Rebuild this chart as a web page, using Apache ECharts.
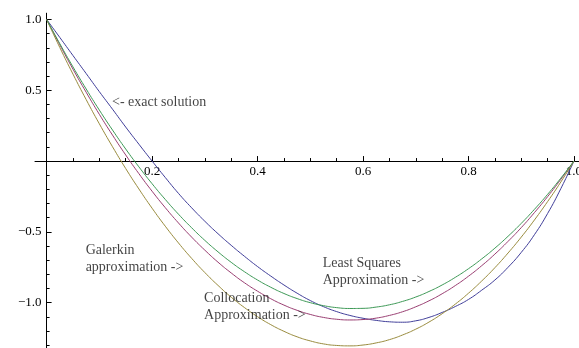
<!DOCTYPE html>
<html>
<head>
<meta charset="utf-8">
<script src="https://cdn.jsdelivr.net/npm/echarts@6/dist/echarts.min.js"></script>
<style>
  html, body { margin: 0; padding: 0; background: #ffffff; }
  #chart { width: 579px; height: 348px; }
</style>
</head>
<body>
<div id="chart"></div>
<script>
// Sample points along x
const xValues = [0, 0.025, 0.05, 0.075, 0.1, 0.125, 0.15, 0.175, 0.2, 0.225, 0.25,
                 0.275, 0.3, 0.325, 0.35, 0.375, 0.4, 0.425, 0.45, 0.475, 0.5,
                 0.525, 0.55, 0.575, 0.6, 0.625, 0.65, 0.675, 0.7, 0.725, 0.75,
                 0.775, 0.8, 0.825, 0.85, 0.875, 0.9, 0.925, 0.95, 0.975, 1];

// Exact solution
const exactSolution = [1.0, 0.873, 0.745, 0.618, 0.49, 0.366, 0.24, 0.119, 0.0, -0.116, -0.228,
                       -0.33, -0.425, -0.513, -0.595, -0.672, -0.745, -0.812, -0.875, -0.933, -0.985,
                       -1.028, -1.063, -1.09, -1.11, -1.125, -1.135, -1.138, -1.128, -1.104, -1.069,
                       -1.027, -0.977, -0.912, -0.84, -0.75, -0.645, -0.52, -0.37, -0.195, 0.0];
// Collocation approximation
const collocation = [1.0, 0.821, 0.649, 0.486, 0.33, 0.183, 0.043, -0.089, -0.213, -0.329, -0.437,
                     -0.537, -0.629, -0.714, -0.79, -0.859, -0.919, -0.972, -1.017, -1.054, -1.083,
                     -1.104, -1.117, -1.122, -1.119, -1.109, -1.09, -1.064, -1.029, -0.987, -0.937,
                     -0.879, -0.813, -0.739, -0.657, -0.567, -0.47, -0.364, -0.251, -0.129, 0.0];
// Galerkin approximation
const galerkin = [1.0, 0.802, 0.614, 0.434, 0.263, 0.101, -0.053, -0.197, -0.333, -0.46, -0.578,
                  -0.687, -0.787, -0.878, -0.961, -1.034, -1.099, -1.155, -1.202, -1.241, -1.27,
                  -1.291, -1.302, -1.305, -1.299, -1.284, -1.261, -1.228, -1.187, -1.137, -1.078,
                  -1.01, -0.933, -0.847, -0.753, -0.649, -0.537, -0.416, -0.286, -0.148, 0.0];
// Least squares approximation
const leastSquares = [1.0, 0.829, 0.665, 0.509, 0.36, 0.219, 0.085, -0.041, -0.16, -0.271, -0.375,
                      -0.471, -0.56, -0.641, -0.715, -0.781, -0.84, -0.891, -0.935, -0.971, -1.0,
                      -1.021, -1.035, -1.041, -1.04, -1.031, -1.015, -0.991, -0.96, -0.921, -0.875,
                      -0.821, -0.76, -0.691, -0.615, -0.531, -0.44, -0.341, -0.235, -0.121, 0.0];

// Tick positions
const xMajorTicks = [0.2, 0.4, 0.6, 0.8, 1.0];
const xMinorTicks = [0.05, 0.1, 0.15, 0.25, 0.3, 0.35, 0.45, 0.5, 0.55, 0.65, 0.7, 0.75, 0.85, 0.9, 0.95];
const yMajorTicks = [-1.0, -0.5, 0.5, 1.0];
const yMinorTicks = [-1.3, -1.2, -1.1, -0.9, -0.8, -0.7, -0.6, -0.4, -0.3, -0.2, -0.1,
                     0.1, 0.2, 0.3, 0.4, 0.6, 0.7, 0.8, 0.9];

// Annotation texts
const noteTexts = ['<- exact solution', 'Galerkin\napproximation ->',
                   'Collocation\nApproximation ->', 'Least Squares\nApproximation ->'];
// Where each annotation starts (data coordinates of its left-middle point)
const noteAnchors = [[0.124, 0.418], [0.074, -0.692], [0.2986, -1.029], [0.5236, -0.783]];

const FONT = '"Liberation Serif", "DejaVu Serif", serif';
const X_MIN = -0.022, X_MAX = 1.0095, Y_MIN = -1.32, Y_MAX = 1.044;
const GRID = { left: 35, right: 0, top: 13.2, bottom: 0 };

const pairs = ys => xValues.map((x, i) => [x, ys[i]]);
const fmt = v => Number(v).toFixed(1).replace('-', '\u2212');
const BLACK_LINE = { color: '#000', width: 1 };

function lineSeries(name, ys, color) {
  return {
    name, type: 'line', data: pairs(ys), smooth: true, showSymbol: false,
    xAxisIndex: 0, yAxisIndex: 0,
    lineStyle: { color, width: 1 }, itemStyle: { color },
    emphasis: { disabled: true }, z: 3
  };
}

// x axis pieces live in grid 0 (which also holds the curves)
function xAxisDef(ticks, tickLen, labels, showLine, offset) {
  return {
    type: 'value', gridIndex: 0, min: X_MIN, max: X_MAX, position: 'bottom', offset,
    axisLine: { show: showLine, onZero: false, lineStyle: BLACK_LINE },
    axisTick: { show: true, inside: true, length: tickLen, customValues: ticks, lineStyle: BLACK_LINE },
    axisLabel: labels
      ? { show: true, customValues: labels, formatter: fmt, margin: 4, interval: 0,
          hideOverlap: false, fontFamily: FONT, fontSize: 13, color: '#000' }
      : { show: false },
    splitLine: { show: false }
  };
}

// y axis pieces live in grid 1, whose left edge sits at x = 0
function yAxisDef(ticks, tickLen, labels, showLine) {
  return {
    type: 'value', gridIndex: 1, min: Y_MIN, max: Y_MAX, position: 'left', offset: 0,
    axisLine: { show: showLine, onZero: false, lineStyle: BLACK_LINE },
    axisTick: { show: true, inside: true, length: tickLen, customValues: ticks, lineStyle: BLACK_LINE },
    axisLabel: labels
      ? { show: true, customValues: labels, formatter: fmt, margin: 5, interval: 0,
          hideOverlap: false, fontFamily: FONT, fontSize: 13, color: '#000' }
      : { show: false },
    splitLine: { show: false }
  };
}

function buildOption(xOff, yAxisLeft) {
  const common = { containLabel: false, outerBoundsMode: 'none' };
  return {
    animation: false,
    backgroundColor: '#ffffff',
    grid: [
      Object.assign({}, common, GRID),
      Object.assign({}, common, GRID, { left: yAxisLeft })
    ],
    xAxis: [
      xAxisDef(xMajorTicks, 5, xMajorTicks, true, xOff),
      xAxisDef(xMinorTicks, 3, null, false, xOff),
      { type: 'value', gridIndex: 1, min: 0, max: 1, show: false }
    ],
    yAxis: [
      { type: 'value', gridIndex: 0, min: Y_MIN, max: Y_MAX, show: false },
      yAxisDef(yMajorTicks, 5, yMajorTicks, true),
      yAxisDef(yMinorTicks, 3, null, false)
    ],
    series: [
      lineSeries('Exact solution', exactSolution, '#3F3D99'),
      lineSeries('Collocation', collocation, '#993D71'),
      lineSeries('Galerkin', galerkin, '#998B3D'),
      lineSeries('Least squares', leastSquares, '#3D9956'),
      {
        name: 'Notes', type: 'scatter', symbolSize: 0, silent: true,
        xAxisIndex: 0, yAxisIndex: 0, z: 5,
        data: noteTexts.map((t, i) => ({ value: noteAnchors[i], name: t })),
        label: {
          show: true, position: 'right', distance: 0, formatter: p => p.name,
          fontFamily: FONT, fontSize: 14, lineHeight: 17, color: '#111', align: 'left'
        }
      }
    ]
  };
}

const chart = echarts.init(document.getElementById('chart'), null, { renderer: 'canvas' });
chart.setOption(buildOption(0, GRID.left));

// The axes cross at the origin: positions come from the scales' own pixel of 0.
const zeroX = chart.convertToPixel({ xAxisIndex: 0 }, 0);
const zeroY = chart.convertToPixel({ yAxisIndex: 0 }, 0);
const xOff = zeroY - (chart.getHeight() - GRID.bottom);
chart.clear();
chart.setOption(buildOption(xOff, zeroX), true);
</script>
</body>
</html>
